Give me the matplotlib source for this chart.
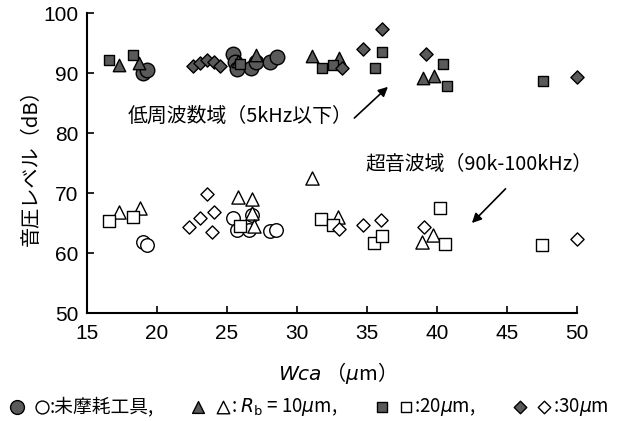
import numpy as np
import matplotlib
matplotlib.use('Agg')
import matplotlib.pyplot as plt
from matplotlib.legend_handler import HandlerTuple

plt.rcParams['font.family'] = ['Liberation Sans', 'Noto Sans CJK JP', 'DejaVu Sans']
plt.rcParams['mathtext.fontset'] = 'dejavusans'

# low frequency band (filled markers)
lo_circle_x = [19.0, 19.3, 25.4, 25.6, 25.7, 26.7, 27.1, 28.1, 28.6]
lo_circle_y = [90.0, 90.5, 93.2, 91.8, 90.7, 90.8, 91.8, 91.8, 92.7]
lo_tri_x = [17.3, 18.7, 25.8, 27.1, 31.1, 33.0, 39.0, 39.8]
lo_tri_y = [91.3, 91.7, 92.0, 93.0, 92.8, 92.5, 89.2, 89.5]
lo_sq_x = [16.6, 18.3, 25.9, 31.8, 32.6, 35.6, 36.1, 40.4, 40.7, 47.6]
lo_sq_y = [92.1, 93.0, 91.5, 90.8, 91.3, 90.8, 93.5, 91.5, 87.8, 88.7]
lo_dia_x = [22.6, 23.1, 23.6, 24.1, 24.5, 33.2, 34.7, 36.1, 39.2, 50.0]
lo_dia_y = [91.2, 91.7, 92.2, 91.8, 91.2, 90.8, 94.0, 97.3, 93.2, 89.3]

# ultrasonic band (open markers)
hi_circle_x = [19.0, 19.3, 25.4, 25.7, 26.6, 26.8, 28.1, 28.5]
hi_circle_y = [61.8, 61.3, 65.8, 63.8, 63.8, 66.3, 63.7, 63.8]
hi_tri_x = [17.3, 18.8, 25.8, 26.8, 26.8, 26.9, 31.1, 32.9, 38.9, 39.7]
hi_tri_y = [66.8, 67.5, 69.3, 69.0, 66.6, 64.5, 72.5, 66.0, 61.8, 63.0]
hi_sq_x = [16.6, 18.3, 25.9, 31.7, 32.6, 35.5, 36.1, 40.2, 40.6, 47.5]
hi_sq_y = [65.3, 66.0, 64.5, 65.7, 64.7, 61.7, 62.8, 67.5, 61.5, 61.3]
hi_dia_x = [22.3, 23.1, 23.6, 24.1, 23.9, 33.0, 34.7, 36.0, 39.1, 50.0]
hi_dia_y = [64.3, 65.8, 69.8, 66.8, 63.5, 64.0, 64.7, 65.5, 64.3, 62.3]

fill = '#5a5a5a'
jp = ['Noto Sans CJK JP', 'DejaVu Sans']

fig = plt.figure(figsize=(6.19, 4.21), dpi=100)
ax = fig.add_axes([0.1405, 0.2565, 0.7915, 0.7125])

kw_f = dict(facecolors=fill, edgecolors='black', linewidths=1.0, zorder=3, clip_on=False)
kw_o = dict(facecolors='white', edgecolors='black', linewidths=1.0, zorder=3, clip_on=False)

h_fc = ax.scatter(lo_circle_x, lo_circle_y, marker='o', s=110, **kw_f)
h_ft = ax.scatter(lo_tri_x, lo_tri_y, marker='^', s=80, **kw_f)
h_fs = ax.scatter(lo_sq_x, lo_sq_y, marker='s', s=55, **kw_f)
h_fd = ax.scatter(lo_dia_x, lo_dia_y, marker='D', s=45, **kw_f)

h_oc = ax.scatter(hi_circle_x, hi_circle_y, marker='o', s=95, **kw_o)
h_ot = ax.scatter(hi_tri_x, hi_tri_y, marker='^', s=90, **kw_o)
h_os = ax.scatter(hi_sq_x, hi_sq_y, marker='s', s=65, **kw_o)
h_od = ax.scatter(hi_dia_x, hi_dia_y, marker='D', s=45, **kw_o)

ax.set_xlim(15, 50)
ax.set_ylim(50, 100)
ax.set_xticks(np.arange(15, 51, 5))
ax.set_yticks(np.arange(50, 101, 10))
for s in ['top', 'right']:
    ax.spines[s].set_visible(False)
for s in ['left', 'bottom']:
    ax.spines[s].set_linewidth(1.5)
ax.tick_params(direction='in', length=5, width=1.2, labelsize=15)
ax.tick_params(axis='x', pad=8)
ax.tick_params(axis='y', pad=6)

ax.set_ylabel('音圧レベル（dB）', fontsize=14.5, family=jp, labelpad=1)
ax.set_xlabel(r'$\mathit{Wca}$ （$\mu$m）', fontsize=14.5, family=jp, labelpad=12)

# annotations
ax.text(17.9, 82.7, '低周波数域（5kHz以下）', fontsize=14.3, family=jp, va='center')
ax.annotate('', xy=(36.5, 87.7), xytext=(34.1, 82.5),
            arrowprops=dict(arrowstyle='-|>', color='black', lw=1.2, mutation_scale=14,
                            shrinkA=0, shrinkB=0))
ax.text(34.9, 74.7, '超音波域（90k-100kHz）', fontsize=14.3, family=jp, va='center')
ax.annotate('', xy=(42.5, 65.0), xytext=(44.9, 70.7),
            arrowprops=dict(arrowstyle='-|>', color='black', lw=1.2, mutation_scale=14,
                            shrinkA=0, shrinkB=0))

# caption legend
labels = [':未摩耗工具,', r': $R_{\rm b}$ = 10$\mu$m,', ':20$\mu$m,', ':30$\mu$m']
handles = [(h_fc, h_oc), (h_ft, h_ot), (h_fs, h_os), (h_fd, h_od)]
fig.legend(handles, labels, handler_map={tuple: HandlerTuple(ndivide=None, pad=0.6)},
           loc='center', bbox_to_anchor=(0.5, 0.033), ncol=4, frameon=False,
           prop={'family': jp, 'size': 13.5},
           handlelength=2.0, handletextpad=0.1, columnspacing=2.0, markerscale=0.95,
           borderpad=0, borderaxespad=0)

fig.savefig('out.png', dpi=100)
